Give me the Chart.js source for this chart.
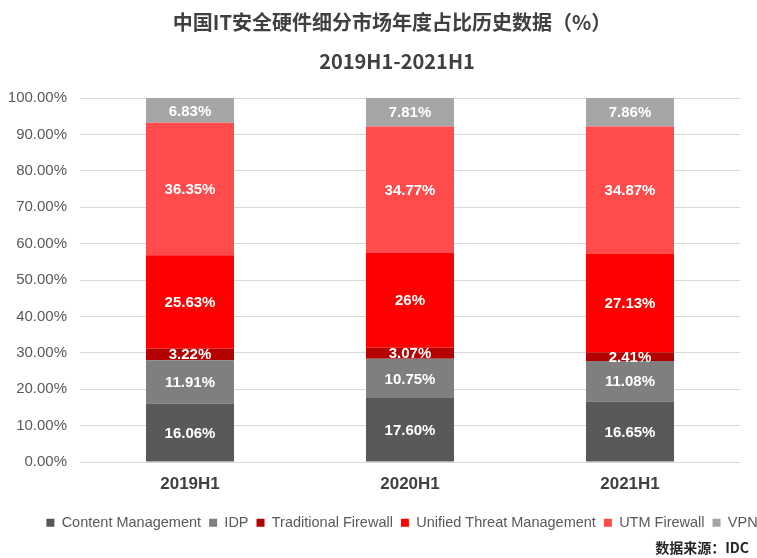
<!DOCTYPE html>
<html>
<head>
<meta charset="utf-8">
<script src="https://cdn.jsdelivr.net/npm/chart.js"></script>
<style>
  html, body { margin: 0; padding: 0; background: #fff; }
  #wrap { width: 757px; height: 558px; }
</style>
</head>
<body>
<div id="wrap"><canvas id="chart"></canvas></div>
<script>
const categories = ['2019H1', '2020H1', '2021H1'];
const contentManagement = ['16.06', '17.60', '16.65'];
const idp = ['11.91', '10.75', '11.08'];
const traditionalFirewall = ['3.22', '3.07', '2.41'];
const unifiedThreat = ['25.63', '26', '27.13'];
const utmFirewall = ['36.35', '34.77', '34.87'];
const vpn = ['6.83', '7.81', '7.86'];
const yTicks = [0, 10, 20, 30, 40, 50, 60, 70, 80, 90, 100];
const titleLines = ['中国IT安全硬件细分市场年度占比历史数据（%）', '2019H1-2021H1'];
const sourceText = '数据来源：IDC';

const series = [
  { label: 'Content Management', values: contentManagement, color: '#595959' },
  { label: 'IDP', values: idp, color: '#7f7f7f' },
  { label: 'Traditional Firewall', values: traditionalFirewall, color: '#b40000' },
  { label: 'Unified Threat Management', values: unifiedThreat, color: '#ff0000' },
  { label: 'UTM Firewall', values: utmFirewall, color: '#ff4b4b' },
  { label: 'VPN', values: vpn, color: '#a6a6a6' }
];

// white value text in the middle of each segment
const barLabels = {
  id: 'barLabels',
  afterDatasetsDraw(chart) {
    const ctx = chart.ctx;
    ctx.save();
    ctx.fillStyle = '#ffffff';
    ctx.font = 'bold 15px "Liberation Sans", Arial, sans-serif';
    ctx.textAlign = 'center';
    ctx.textBaseline = 'middle';
    chart.data.datasets.forEach(function(ds, i) {
      chart.getDatasetMeta(i).data.forEach(function(bar, j) {
        const y = (bar.y + bar.base) / 2;
        ctx.fillText(ds.rawText[j] + '%', bar.x, y + 1);
      });
    });
    ctx.restore();
  }
};

// two-line title and the source note
const headerFooter = {
  id: 'headerFooter',
  afterUpdate(chart) {
    // legend sits a little right of centre in the original
    chart.legend.left += 30;
    chart.legend.right += 30;
  },
  afterDraw(chart) {
    const ctx = chart.ctx;
    ctx.save();
    ctx.fillStyle = '#404040';
    ctx.textAlign = 'center';
    ctx.textBaseline = 'middle';
    ctx.font = 'bold 20px "Noto Sans CJK SC", sans-serif';
    ctx.fillText(titleLines[0], 392, 22);
    ctx.fillText(titleLines[1], 397, 61);
    ctx.fillStyle = '#262626';
    ctx.font = 'bold 14px "Noto Sans CJK SC", sans-serif';
    ctx.textAlign = 'right';
    ctx.fillText(sourceText, 749, 548);
    ctx.restore();
  }
};

const ctx = document.getElementById('chart').getContext('2d');
new Chart(ctx, {
  type: 'bar',
  data: {
    labels: categories,
    datasets: series.map(function(s) {
      return {
        label: s.label,
        data: s.values.map(parseFloat),
        rawText: s.values,
        backgroundColor: s.color,
        borderWidth: 0,
        barPercentage: 0.4,
        categoryPercentage: 1
      };
    })
  },
  options: {
    responsive: true,
    maintainAspectRatio: false,
    animation: false,
    layout: { padding: { left: 4, right: 17, top: 98, bottom: 18 } },
    plugins: {
      title: { display: false },
      legend: {
        position: 'bottom',
        labels: {
          boxWidth: 8,
          boxHeight: 8,
          padding: 8,
          color: '#595959',
          font: { family: '"Liberation Sans", Arial, sans-serif', size: 14.5 }
        }
      },
      tooltip: { enabled: false }
    },
    scales: {
      x: {
        stacked: true,
        grid: { display: false },
        border: { display: false },
        afterFit: function(axis) { axis.height = 45.5; },
        ticks: {
          color: '#404040',
          font: { family: '"Liberation Sans", Arial, sans-serif', size: 17, weight: 'bold' },
          padding: 4
        }
      },
      y: {
        stacked: true,
        min: 0,
        max: 100,
        afterBuildTicks: function(axis) {
          axis.ticks = yTicks.map(function(v) { return { value: v }; });
        },
        afterFit: function(axis) { axis.width = 76; },
        grid: { color: '#d9d9d9', drawTicks: false },
        border: { display: false },
        ticks: {
          color: '#595959',
          padding: 13,
          font: { family: '"Liberation Sans", Arial, sans-serif', size: 15 },
          callback: function(v) { return v.toFixed(2) + '%'; }
        }
      }
    }
  },
  plugins: [barLabels, headerFooter]
});
</script>
</body>
</html>
